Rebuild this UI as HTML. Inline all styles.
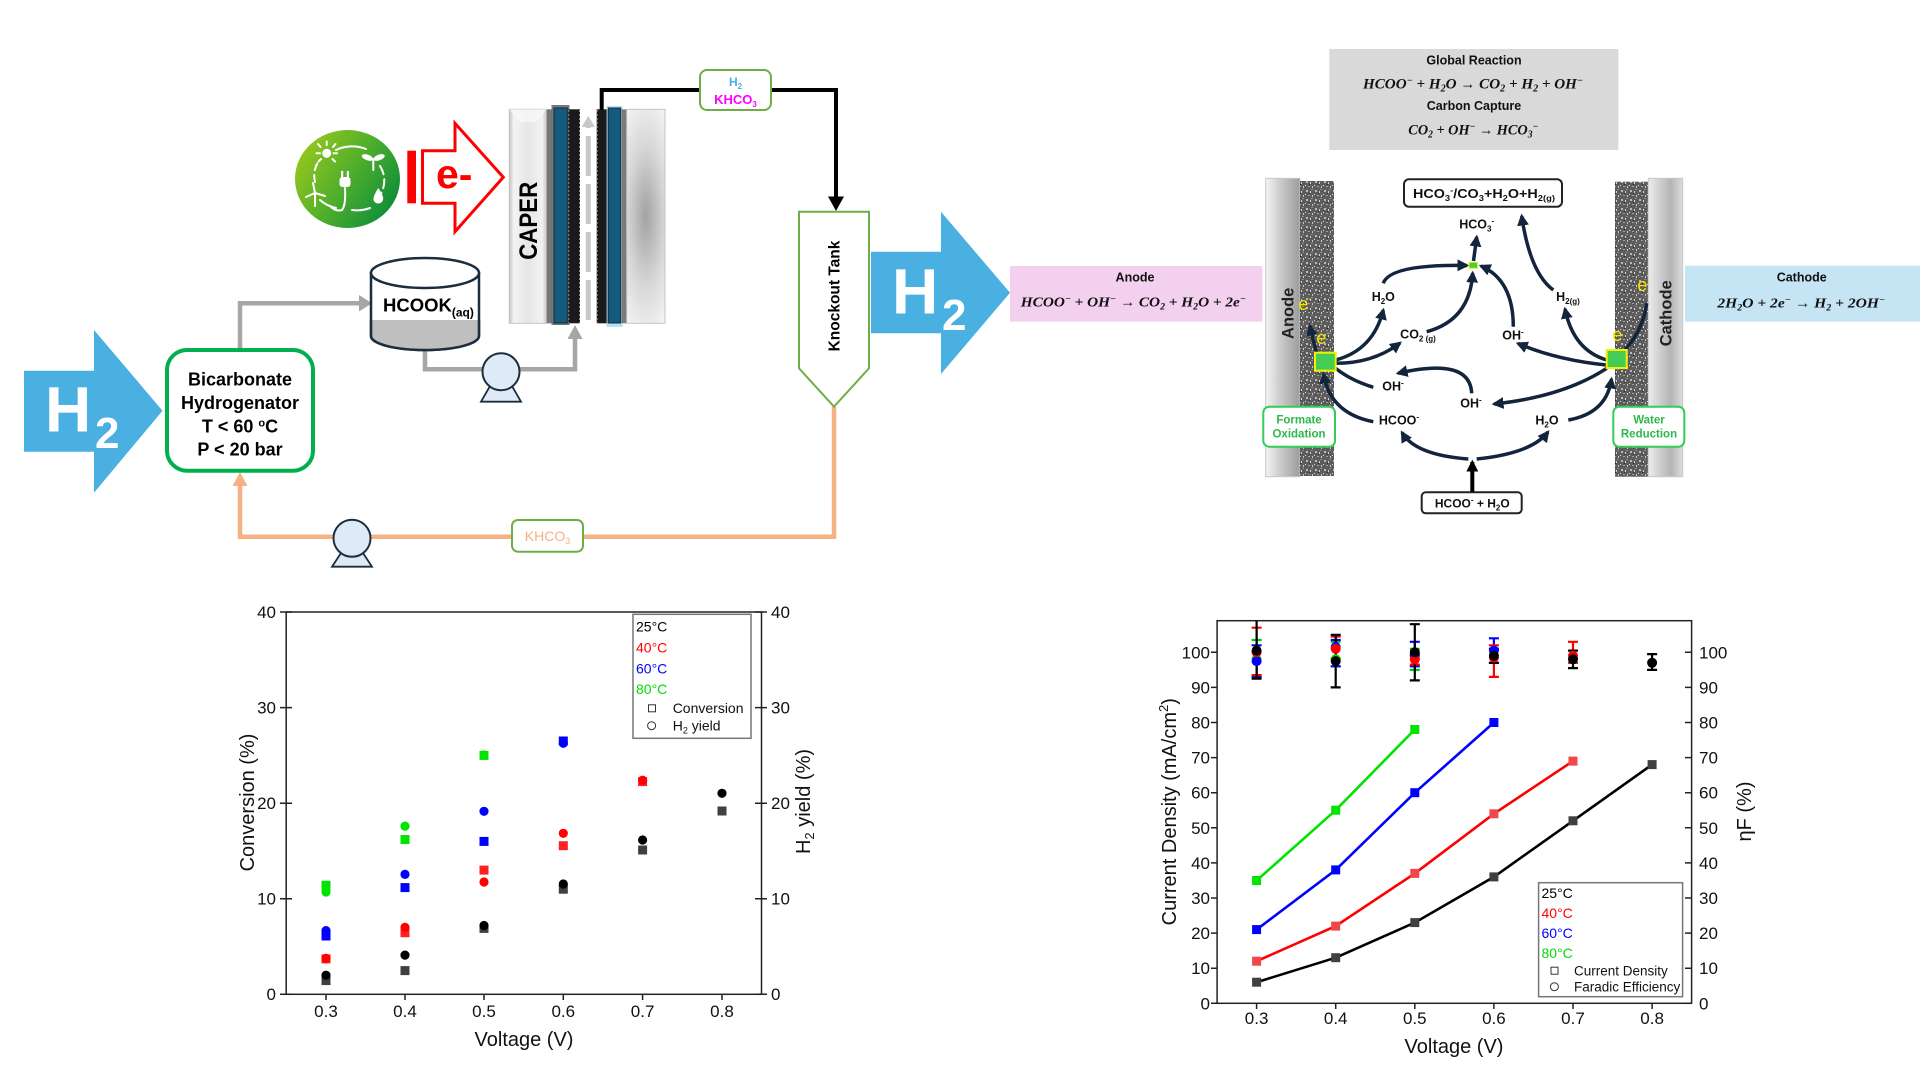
<!DOCTYPE html>
<html><head><meta charset="utf-8"><style>
html,body{margin:0;padding:0;background:#fff;width:1920px;height:1080px;overflow:hidden}
svg{display:block}
.s{font-family:"Liberation Sans",sans-serif}
.b{font-family:"Liberation Sans",sans-serif;font-weight:bold}
.eq{font-family:"Liberation Serif",serif;font-style:italic;font-weight:bold}
</style></head><body>
<svg width="1920" height="1080" viewBox="0 0 1920 1080" xmlns="http://www.w3.org/2000/svg">
<defs>
<linearGradient id="gl" x1="0" y1="0.2" x2="1" y2="0.8"><stop offset="0" stop-color="#9cc81d"/><stop offset="0.5" stop-color="#4fae2c"/><stop offset="1" stop-color="#078a3a"/></linearGradient>
<linearGradient id="plL" x1="0" x2="1"><stop offset="0" stop-color="#c2c2c2"/><stop offset="0.12" stop-color="#f4f4f4"/><stop offset="0.5" stop-color="#e6e6e6"/><stop offset="0.88" stop-color="#f2f2f2"/><stop offset="1" stop-color="#c6c6c6"/></linearGradient>
<radialGradient id="plR" gradientUnits="userSpaceOnUse" cx="0" cy="0" r="1" gradientTransform="translate(645.8 216) scale(34 125)"><stop offset="0" stop-color="#a2a2a2"/><stop offset="0.55" stop-color="#d6d6d6"/><stop offset="1" stop-color="#f4f4f4"/></radialGradient>
<linearGradient id="an" x1="0" x2="1"><stop offset="0" stop-color="#f4f4f4"/><stop offset="0.35" stop-color="#d2d2d2"/><stop offset="1" stop-color="#9c9c9c"/></linearGradient>
<linearGradient id="ca" x1="0" x2="1"><stop offset="0" stop-color="#ececec"/><stop offset="0.65" stop-color="#b4b4b4"/><stop offset="1" stop-color="#dcdcdc"/></linearGradient>
<pattern id="tex" width="9" height="9" patternUnits="userSpaceOnUse">
<rect width="9" height="9" fill="#5c5c5c"/>
<rect x="1" y="1" width="2" height="2" fill="#b8b8b8"/>
<rect x="5" y="2" width="1" height="2" fill="#d4d4d4"/>
<rect x="3" y="6" width="2" height="1" fill="#a0a0a0"/>
<rect x="7" y="6" width="1" height="2" fill="#c8c8c8"/>
<rect x="6" y="0" width="2" height="1" fill="#8a8a8a"/>
<rect x="0" y="5" width="1" height="1" fill="#e0e0e0"/>
<rect x="4" y="4" width="1" height="1" fill="#2c2c2c"/>
</pattern>
<marker id="ah" viewBox="0 0 10 10" refX="8" refY="5" markerWidth="3.4" markerHeight="3.4" orient="auto"><path d="M0,0L10,5L0,10z" fill="#13243d"/></marker>
<marker id="ahk" viewBox="0 0 10 10" refX="8" refY="5" markerWidth="3" markerHeight="3" orient="auto"><path d="M0,0L10,5L0,10z" fill="#000"/></marker>
</defs>

<!-- ================= PROCESS DIAGRAM ================= -->
<polygon points="24,370.7 94,370.7 94,330 162.5,410.7 94,492.7 94,451.7 24,451.7" fill="#49b0e1"/>
<text class="b" x="45" y="431.5" font-size="64" fill="#fff">H</text>
<text class="b" x="95" y="448" font-size="44" fill="#fff">2</text>

<polyline points="834,406.7 834,536.7 240,536.7 240,484" fill="none" stroke="#f4b183" stroke-width="4.5"/>
<polygon points="232.5,486 240,472 247.5,486" fill="#f4b183"/>

<polyline points="240,352 240,303.3 360,303.3" fill="none" stroke="#a6a6a6" stroke-width="4.5"/>
<polygon points="359,295 372,303.3 359,311.5" fill="#a6a6a6"/>
<polyline points="425,345 425,369.3 575,369.3 575,338" fill="none" stroke="#a6a6a6" stroke-width="4.5"/>
<polygon points="567.5,339 575,325 582.5,339" fill="#a6a6a6"/>

<rect x="167" y="350" width="146" height="120.7" rx="20" fill="#fff" stroke="#00b050" stroke-width="4"/>
<g class="b" font-size="18" text-anchor="middle" fill="#000">
<text x="240" y="385.5">Bicarbonate</text>
<text x="240" y="409">Hydrogenator</text>
<text x="240" y="432.3">T &lt; 60 <tspan font-size="11" dy="-6">o</tspan><tspan dy="6">C</tspan></text>
<text x="240" y="455.7">P &lt; 20 bar</text>
</g>

<ellipse cx="347.5" cy="179" rx="52.5" ry="49" fill="url(#gl)"/>
<g stroke="#fff" fill="none" stroke-width="2" stroke-linecap="round">
<path d="M336,150 A34,30 0 0 1 366,149"/>
<path d="M380,166 A34,30 0 0 1 378,198" stroke-dasharray="9 5"/>
<path d="M370,208 A34,30 0 0 1 352,210"/>
<path d="M336,208 A34,30 0 0 1 320,200"/>
<path d="M315,182 A34,30 0 0 1 318,162" stroke-dasharray="7 5"/>
<path d="M345,188 Q346,205 342,210 Q336,212 330,206"/>
<line x1="320.5" y1="147" x2="318" y2="144"/><line x1="326.7" y1="145" x2="326.7" y2="141.5"/><line x1="333" y1="147" x2="335.5" y2="144"/><line x1="320" y1="153.3" x2="316.5" y2="153.3"/><line x1="333.5" y1="153.3" x2="337" y2="153.3"/><line x1="321" y1="159" x2="318.5" y2="161.5"/><line x1="332.5" y1="159" x2="335" y2="161.5"/>
<line x1="315" y1="193" x2="315" y2="206"/><line x1="315" y1="193" x2="306" y2="197"/><line x1="315" y1="193" x2="325" y2="196"/><line x1="315" y1="193" x2="313" y2="183"/>
<line x1="373.3" y1="160" x2="373.3" y2="170"/>
</g>
<circle cx="326.7" cy="153.3" r="4.5" fill="#fff"/>
<rect x="339.5" y="177" width="11" height="10" rx="3" fill="#fff"/>
<rect x="341" y="171" width="2.2" height="7" fill="#fff"/><rect x="346.8" y="171" width="2.2" height="7" fill="#fff"/>
<ellipse cx="367.5" cy="157.5" rx="6" ry="2.8" fill="#fff" transform="rotate(20 367.5 157.5)"/>
<ellipse cx="379" cy="157.5" rx="6" ry="2.8" fill="#fff" transform="rotate(-20 379 157.5)"/>
<path d="M378.3,188 Q384,196 383,200 A5,5 0 0 1 373.5,200 Q373,196 378.3,188z" fill="#fff"/>

<rect x="407.3" y="150.7" width="8.7" height="52.6" fill="#ff0000"/>
<polygon points="422.5,150.7 455,150.7 455,123.3 503.3,177.3 455,231.7 455,203.3 422.5,203.3" fill="#fff" stroke="#ff0000" stroke-width="3"/>
<text class="b" x="436" y="188" font-size="41" fill="#ff0000">e-</text>

<path d="M371,273 V336 A54,14 0 0 0 479,336 V273 Z" fill="#fff" stroke="#1c2e3e" stroke-width="2.5"/>
<path d="M372.3,320 V336 A52.7,13 0 0 0 477.7,336 V320 Z" fill="#bfbfbf"/>
<path d="M371,320 V336 A54,14 0 0 0 479,336 V320" fill="none" stroke="#1c2e3e" stroke-width="2.5"/>
<ellipse cx="425" cy="273" rx="54" ry="15" fill="#fff" stroke="#1c2e3e" stroke-width="2.5"/>
<text class="b" x="383" y="311.5" font-size="18.5" fill="#000">HCOOK<tspan font-size="12" dy="5">(aq)</tspan></text>

<polygon points="490,386 512,386 521,401.7 481,401.7" fill="#deebf7" stroke="#1c2e3e" stroke-width="1.8"/>
<circle cx="501" cy="371.7" r="18.5" fill="#deebf7" stroke="#1c2e3e" stroke-width="2"/>
<polygon points="341,553 363,553 372,566.7 332,566.7" fill="#deebf7" stroke="#1c2e3e" stroke-width="1.8"/>
<circle cx="352" cy="538.3" r="18.5" fill="#deebf7" stroke="#1c2e3e" stroke-width="2"/>

<rect x="512" y="520" width="71" height="31.7" rx="6" fill="#fff" stroke="#70ad47" stroke-width="2"/>
<text class="s" x="547.5" y="541" font-size="14" fill="#f4b183" text-anchor="middle">KHCO<tspan font-size="9" dy="3">3</tspan></text>

<rect x="509.3" y="109.3" width="37.4" height="214" fill="url(#plL)" stroke="#c4c4c4" stroke-width="1"/>
<polygon points="509.3,109.3 546.7,109.3 536,122 520,122" fill="#fafafa" opacity="0.7"/>
<text class="b" x="0" y="0" font-size="25" fill="#000" text-anchor="middle" textLength="78" lengthAdjust="spacingAndGlyphs" transform="translate(537,220.8) rotate(-90)">CAPER</text>
<rect x="546.7" y="109.3" width="5" height="214" fill="#777"/>
<rect x="551.5" y="105" width="18" height="220" fill="#4a4a4a" opacity="0.75"/>
<rect x="554" y="108" width="13.3" height="215" fill="#135a7c" stroke="#0e2f40" stroke-width="1"/>
<rect x="568.3" y="109.3" width="11.7" height="214" fill="#1a1a1a"/>
<line x1="568.8" y1="110" x2="568.8" y2="323" stroke="#888" stroke-width="1" stroke-dasharray="2 2"/>
<line x1="579.5" y1="110" x2="579.5" y2="323" stroke="#888" stroke-width="1" stroke-dasharray="2 2"/>
<line x1="588.3" y1="320" x2="588.3" y2="126" stroke="#c8c8c8" stroke-width="5" stroke-dasharray="40 8"/>
<polygon points="581.7,127 588.3,115.7 595,127" fill="#c8c8c8"/>
<rect x="596.7" y="109.3" width="11.6" height="214" fill="#1a1a1a"/>
<line x1="597.2" y1="110" x2="597.2" y2="323" stroke="#888" stroke-width="1" stroke-dasharray="2 2"/>
<line x1="607.8" y1="110" x2="607.8" y2="323" stroke="#888" stroke-width="1" stroke-dasharray="2 2"/>
<rect x="606.5" y="106" width="16" height="221" fill="#a8d4ef" opacity="0.8"/>
<rect x="608.3" y="108" width="12.4" height="215" fill="#135a7c" stroke="#0e2f40" stroke-width="1"/>
<rect x="621.7" y="109.3" width="5" height="214" fill="#7a7a7a"/>
<rect x="626.7" y="109.3" width="38.3" height="214" fill="url(#plR)" stroke="#c4c4c4" stroke-width="1"/>

<polyline points="601.7,110 601.7,90 836,90 836,198" fill="none" stroke="#000" stroke-width="4"/>
<polygon points="828,196.5 836,211 844,196.5" fill="#000"/>
<rect x="700" y="70" width="71" height="40" rx="7" fill="#fff" stroke="#70ad47" stroke-width="2"/>
<text class="b" x="735.5" y="86" font-size="12" fill="#45b0e5" text-anchor="middle">H<tspan font-size="8" dy="3">2</tspan></text>
<text class="b" x="735.5" y="104" font-size="13" fill="#ff00ff" text-anchor="middle">KHCO<tspan font-size="8" dy="3">3</tspan></text>

<polygon points="799,211.7 869,211.7 869,368.3 834,406.7 799,368.3" fill="#fff" stroke="#70ad47" stroke-width="2"/>
<text class="b" x="0" y="0" font-size="15.5" fill="#000" text-anchor="middle" transform="translate(839.5,296) rotate(-90)">Knockout Tank</text>

<polygon points="871,251.7 941,251.7 941,211.7 1010,292.7 941,374 941,333.3 871,333.3" fill="#49b0e1"/>
<text class="b" x="892" y="313.3" font-size="64" fill="#fff">H</text>
<text class="b" x="942" y="330" font-size="44" fill="#fff">2</text>

<!-- ================= MECHANISM ================= -->
<rect x="1329.3" y="49" width="289" height="101" fill="#d9d9d9"/>
<text class="b" x="1474" y="64.3" font-size="12.5" text-anchor="middle" fill="#111">Global Reaction</text>
<text class="eq" x="1473" y="88.3" font-size="15" text-anchor="middle" textLength="220" lengthAdjust="spacingAndGlyphs" fill="#111">HCOO<tspan font-size="10" dy="-5">−</tspan><tspan dy="5"> + H</tspan><tspan font-size="10" dy="3">2</tspan><tspan dy="-3">O → CO</tspan><tspan font-size="10" dy="3">2</tspan><tspan dy="-3"> + H</tspan><tspan font-size="10" dy="3">2</tspan><tspan dy="-3"> + OH</tspan><tspan font-size="10" dy="-5">−</tspan></text>
<text class="b" x="1474" y="110" font-size="12.5" text-anchor="middle" fill="#111">Carbon Capture</text>
<text class="eq" x="1473.3" y="134.3" font-size="15" text-anchor="middle" textLength="130" lengthAdjust="spacingAndGlyphs" fill="#111">CO<tspan font-size="10" dy="3">2</tspan><tspan dy="-3"> + OH</tspan><tspan font-size="10" dy="-5">−</tspan><tspan dy="5"> →  HCO</tspan><tspan font-size="10" dy="3">3</tspan><tspan font-size="10" dy="-8">−</tspan></text>

<rect x="1010" y="266" width="252.3" height="55.7" fill="#f2d0ee"/>
<text class="b" x="1135" y="281.7" font-size="12.5" text-anchor="middle" fill="#111">Anode</text>
<text class="eq" x="1133.3" y="306.7" font-size="14" text-anchor="middle" textLength="225" lengthAdjust="spacingAndGlyphs" fill="#111">HCOO<tspan font-size="9" dy="-5">−</tspan><tspan dy="5"> + OH</tspan><tspan font-size="9" dy="-5">−</tspan><tspan dy="5"> → CO</tspan><tspan font-size="9" dy="3">2</tspan><tspan dy="-3"> + H</tspan><tspan font-size="9" dy="3">2</tspan><tspan dy="-3">O + 2e</tspan><tspan font-size="9" dy="-5">−</tspan></text>

<rect x="1685" y="265.7" width="235" height="56" fill="#c5e4f4"/>
<text class="b" x="1801.7" y="281.7" font-size="12.5" text-anchor="middle" fill="#111">Cathode</text>
<text class="eq" x="1801.2" y="307.3" font-size="14" text-anchor="middle" textLength="167.7" lengthAdjust="spacingAndGlyphs" fill="#111">2H<tspan font-size="9" dy="3">2</tspan><tspan dy="-3">O + 2e</tspan><tspan font-size="9" dy="-5">−</tspan><tspan dy="5"> → H</tspan><tspan font-size="9" dy="3">2</tspan><tspan dy="-3"> + 2OH</tspan><tspan font-size="9" dy="-5">−</tspan></text>

<rect x="1265.7" y="178.3" width="34.3" height="298.4" fill="url(#an)" stroke="#c8c8c8" stroke-width="1"/>
<rect x="1300" y="181" width="34" height="295" fill="url(#tex)"/>
<rect x="1615" y="181.7" width="33.3" height="295" fill="url(#tex)"/>
<rect x="1648.3" y="178.3" width="34.4" height="298.4" fill="url(#ca)" stroke="#c8c8c8" stroke-width="1"/>
<text class="b" x="0" y="0" font-size="16.5" text-anchor="middle" fill="#222" transform="translate(1293.5,313.3) rotate(-90)">Anode</text>
<text class="b" x="0" y="0" font-size="16.5" text-anchor="middle" fill="#222" transform="translate(1671.5,313.3) rotate(-90)">Cathode</text>

<rect x="1404" y="179.3" width="158" height="27.4" rx="5" fill="#fff" stroke="#222" stroke-width="2"/>
<text class="b" x="1484" y="198" font-size="13" text-anchor="middle" textLength="142" lengthAdjust="spacingAndGlyphs" fill="#111">HCO<tspan font-size="8.5" dy="3">3</tspan><tspan font-size="8.5" dy="-8">-</tspan><tspan dy="5">/CO</tspan><tspan font-size="8.5" dy="3">3</tspan><tspan dy="-3">+H</tspan><tspan font-size="8.5" dy="3">2</tspan><tspan dy="-3">O+H</tspan><tspan font-size="8.5" dy="3">2(g)</tspan></text>
<rect x="1421.7" y="492.3" width="100" height="21" rx="4" fill="#fff" stroke="#222" stroke-width="2"/>
<text class="b" x="1472.3" y="507.7" font-size="12" text-anchor="middle" fill="#111">HCOO<tspan font-size="8" dy="-5">-</tspan><tspan dy="5"> + H</tspan><tspan font-size="8" dy="3">2</tspan><tspan dy="-3">O</tspan></text>
<rect x="1263.3" y="406.7" width="71.7" height="40" rx="6" fill="#fff" stroke="#33cc55" stroke-width="2"/>
<text class="b" x="1299" y="423.3" font-size="11.5" text-anchor="middle" fill="#2db84d">Formate</text>
<text class="b" x="1299" y="437.3" font-size="11.5" text-anchor="middle" fill="#2db84d">Oxidation</text>
<rect x="1613.3" y="406.7" width="71" height="40" rx="6" fill="#fff" stroke="#33cc55" stroke-width="2"/>
<text class="b" x="1649" y="423.3" font-size="11.5" text-anchor="middle" fill="#2db84d">Water</text>
<text class="b" x="1649" y="437.3" font-size="11.5" text-anchor="middle" fill="#2db84d">Reduction</text>

<g fill="none" stroke="#13243d" stroke-width="3.5">
<path d="M1335.7,360 Q1373.3,350 1383.3,310" marker-end="url(#ah)"/>
<path d="M1335.7,363.3 Q1373.3,363.3 1400,343" marker-end="url(#ah)"/>
<path d="M1383.3,283.3 Q1390,264 1467,265.5" marker-end="url(#ah)"/>
<path d="M1426.7,331.7 Q1470,320 1472.7,273" marker-end="url(#ah)"/>
<path d="M1473.5,261 Q1475,250 1476.7,237" marker-end="url(#ah)"/>
<path d="M1513.3,326.7 Q1513.3,280 1481,266" marker-end="url(#ah)"/>
<path d="M1553.3,290 Q1530,273 1521.7,216" marker-end="url(#ah)"/>
<path d="M1606.7,360 Q1573.3,350 1565,309" marker-end="url(#ah)"/>
<path d="M1606.7,365 Q1556.7,360 1518,343.5" marker-end="url(#ah)"/>
<path d="M1606.7,368.3 Q1563.3,396.7 1494,404" marker-end="url(#ah)"/>
<path d="M1471.7,393.3 Q1470,356.7 1398,373.3" marker-end="url(#ah)"/>
<path d="M1373.3,387.3 Q1350,380 1335.7,368.3"/>
<path d="M1373.3,421.7 Q1330,413.3 1323.5,374" marker-end="url(#ah)"/>
<path d="M1568.3,420 Q1606.7,413.3 1611.5,379" marker-end="url(#ah)"/>
<path d="M1316.7,353.3 Q1313,340 1310,326" marker-end="url(#ah)"/>
<path d="M1468.3,459 Q1415,455 1402,432.5" marker-end="url(#ah)"/>
<path d="M1476.7,459 Q1531.7,453.3 1548,432" marker-end="url(#ah)"/>
<path d="M1625,350 Q1643,330 1646.7,303.3"/>
</g>
<line x1="1472.3" y1="491.7" x2="1472.3" y2="462" stroke="#000" stroke-width="4" marker-end="url(#ahk)"/>

<rect x="1315" y="352.7" width="20.7" height="18" fill="#44cc55" stroke="#f2f200" stroke-width="2"/>
<rect x="1606.7" y="350" width="20" height="18" fill="#44cc55" stroke="#f2f200" stroke-width="2"/>
<rect x="1469" y="262.3" width="8.5" height="6" fill="#44cc55" stroke="#f2f200" stroke-width="1"/>

<g class="b" font-size="12.5" fill="#111" text-anchor="middle">
<text x="1476.7" y="228.5">HCO<tspan font-size="8" dy="3">3</tspan><tspan font-size="8" dy="-8">-</tspan></text>
<text x="1383.3" y="301">H<tspan font-size="8" dy="3">2</tspan><tspan dy="-3">O</tspan></text>
<text x="1418" y="338.5">CO<tspan font-size="8" dy="3">2 (g)</tspan></text>
<text x="1513" y="339.5">OH<tspan font-size="8" dy="-5">-</tspan></text>
<text x="1568" y="301">H<tspan font-size="8" dy="3">2(g)</tspan></text>
<text x="1393" y="390.5">OH<tspan font-size="8" dy="-5">-</tspan></text>
<text x="1471" y="407.7">OH<tspan font-size="8" dy="-5">-</tspan></text>
<text x="1399" y="424.3">HCOO<tspan font-size="8" dy="-5">-</tspan></text>
<text x="1547" y="424.3">H<tspan font-size="8" dy="3">2</tspan><tspan dy="-3">O</tspan></text>
</g>
<g class="s" font-size="18" fill="#f2e600" text-anchor="middle">
<text x="1305" y="310">e<tspan font-size="10" dy="-8">-</tspan></text>
<text x="1323" y="344">e<tspan font-size="10" dy="-8">-</tspan></text>
<text x="1644" y="291">e<tspan font-size="10" dy="-8">-</tspan></text>
<text x="1619" y="341">e<tspan font-size="10" dy="-8">-</tspan></text>
</g>

<!-- ================= CHART 1 ================= -->
<g stroke="#222" stroke-width="1.5" fill="none">
<rect x="286.2" y="612" width="475.3" height="382.3"/>
<path d="M280,994.3H292M280,898.7H292M280,803.2H292M280,707.6H292M280,612H292"/>
<path d="M755,994.3H767M755,898.7H767M755,803.2H767M755,707.6H767M755,612H767"/>
<path d="M326,994.3V1000M405,994.3V1000M484,994.3V1000M563.3,994.3V1000M642.6,994.3V1000M722,994.3V1000"/>
</g>
<g class="s" font-size="17" fill="#111" text-anchor="end">
<text x="276" y="1000">0</text><text x="276" y="904.5">10</text><text x="276" y="809">20</text><text x="276" y="713.5">30</text><text x="276" y="618">40</text>
</g>
<g class="s" font-size="17" fill="#111">
<text x="771" y="1000">0</text><text x="771" y="904.5">10</text><text x="771" y="809">20</text><text x="771" y="713.5">30</text><text x="771" y="618">40</text>
</g>
<g class="s" font-size="17" fill="#111" text-anchor="middle">
<text x="326" y="1017">0.3</text><text x="405" y="1017">0.4</text><text x="484" y="1017">0.5</text><text x="563.3" y="1017">0.6</text><text x="642.6" y="1017">0.7</text><text x="722" y="1017">0.8</text>
</g>
<text class="s" x="524" y="1046" font-size="20" text-anchor="middle" fill="#111">Voltage (V)</text>
<text class="s" x="0" y="0" font-size="20" text-anchor="middle" fill="#111" transform="translate(254,802.5) rotate(-90)">Conversion (%)</text>
<text class="s" x="0" y="0" font-size="20" text-anchor="middle" fill="#111" transform="translate(810,801.5) rotate(-90)">H<tspan font-size="13" dy="4">2</tspan><tspan dy="-4"> yield (%)</tspan></text>
<rect x="633" y="614.3" width="118" height="124" fill="#fff" stroke="#777" stroke-width="1.5"/>
<g class="s" font-size="14">
<text x="636" y="631.5" fill="#000">25°C</text>
<text x="636" y="652.5" fill="#ff0000">40°C</text>
<text x="636" y="673.5" fill="#0000ff">60°C</text>
<text x="636" y="694" fill="#00dd00">80°C</text>
<text x="672.7" y="713" fill="#111">Conversion</text>
<text x="672.7" y="730.5" fill="#111">H<tspan font-size="9" dy="3">2</tspan><tspan dy="-3"> yield</tspan></text>
</g>
<rect x="648.5" y="704.8" width="7" height="7" fill="none" stroke="#333" stroke-width="1"/>
<circle cx="651.6" cy="725.7" r="4" fill="none" stroke="#333" stroke-width="1"/>
<g>
<rect x="321.5" y="976.1" width="9" height="9" fill="#404040"/>
<rect x="321.5" y="954.4" width="9" height="9" fill="#ff2020"/>
<rect x="321.5" y="931.5" width="9" height="9" fill="#0000ff"/>
<rect x="321.5" y="880.8" width="9" height="9" fill="#00e400"/>
<rect x="400.5" y="966.1" width="9" height="9" fill="#404040"/>
<rect x="400.5" y="928.2" width="9" height="9" fill="#ff2020"/>
<rect x="400.5" y="883.1" width="9" height="9" fill="#0000ff"/>
<rect x="400.5" y="835" width="9" height="9" fill="#00e400"/>
<rect x="479.5" y="923.9" width="9" height="9" fill="#404040"/>
<rect x="479.5" y="865.6" width="9" height="9" fill="#ff2020"/>
<rect x="479.5" y="836.9" width="9" height="9" fill="#0000ff"/>
<rect x="479.5" y="750.9" width="9" height="9" fill="#00e400"/>
<rect x="558.8" y="884.7" width="9" height="9" fill="#404040"/>
<rect x="558.8" y="841.2" width="9" height="9" fill="#ff2020"/>
<rect x="558.8" y="736.5" width="9" height="9" fill="#0000ff"/>
<rect x="638.1" y="845.5" width="9" height="9" fill="#404040"/>
<rect x="638.1" y="777.1" width="9" height="9" fill="#ff2020"/>
<rect x="717.5" y="806.5" width="9" height="9" fill="#404040"/>
<circle cx="326" cy="975.2" r="4.6" fill="#000"/>
<circle cx="326" cy="958.3" r="4.6" fill="#ff0000"/>
<circle cx="326" cy="930.6" r="4.6" fill="#0000ff"/>
<circle cx="326" cy="892" r="4.6" fill="#00e400"/>
<circle cx="405" cy="955.1" r="4.6" fill="#000"/>
<circle cx="405" cy="927.4" r="4.6" fill="#ff0000"/>
<circle cx="405" cy="874.4" r="4.6" fill="#0000ff"/>
<circle cx="405" cy="826.1" r="4.6" fill="#00e400"/>
<circle cx="484" cy="925.5" r="4.6" fill="#000"/>
<circle cx="484" cy="882" r="4.6" fill="#ff0000"/>
<circle cx="484" cy="811.3" r="4.6" fill="#0000ff"/>
<circle cx="484" cy="755" r="4.6" fill="#00e400"/>
<circle cx="563.3" cy="884" r="4.6" fill="#000"/>
<circle cx="563.3" cy="833.3" r="4.6" fill="#ff0000"/>
<circle cx="563.3" cy="743.3" r="4.6" fill="#0000ff"/>
<circle cx="642.6" cy="840" r="4.6" fill="#000"/>
<circle cx="642.6" cy="780.2" r="4.6" fill="#ff0000"/>
<circle cx="722" cy="793.3" r="4.6" fill="#000"/>
</g>

<!-- ================= CHART 2 ================= -->
<g stroke="#222" stroke-width="1.5" fill="none">
<rect x="1217.1" y="620.7" width="474.5" height="382.6"/>
<path d="M1211,1003.3H1217M1211,968.2H1217M1211,933.1H1217M1211,898H1217M1211,862.9H1217M1211,827.8H1217M1211,792.7H1217M1211,757.6H1217M1211,722.5H1217M1211,687.4H1217M1211,652.3H1217"/>
<path d="M1685,1003.3H1691.6M1685,968.2H1691.6M1685,933.1H1691.6M1685,898H1691.6M1685,862.9H1691.6M1685,827.8H1691.6M1685,792.7H1691.6M1685,757.6H1691.6M1685,722.5H1691.6M1685,687.4H1691.6M1685,652.3H1691.6"/>
<path d="M1256.6,1003.3V1009M1335.7,1003.3V1009M1414.8,1003.3V1009M1493.9,1003.3V1009M1573,1003.3V1009M1652.1,1003.3V1009"/>
</g>
<g class="s" font-size="17" fill="#111" text-anchor="end">
<text x="1210" y="1009.3">0</text><text x="1210" y="974.2">10</text><text x="1210" y="939.1">20</text><text x="1210" y="904">30</text><text x="1210" y="868.9">40</text><text x="1210" y="833.8">50</text><text x="1210" y="798.7">60</text><text x="1210" y="763.6">70</text><text x="1210" y="728.5">80</text><text x="1210" y="693.4">90</text><text x="1210" y="658.3">100</text>
</g>
<g class="s" font-size="17" fill="#111">
<text x="1699" y="1009.3">0</text><text x="1699" y="974.2">10</text><text x="1699" y="939.1">20</text><text x="1699" y="904">30</text><text x="1699" y="868.9">40</text><text x="1699" y="833.8">50</text><text x="1699" y="798.7">60</text><text x="1699" y="763.6">70</text><text x="1699" y="728.5">80</text><text x="1699" y="693.4">90</text><text x="1699" y="658.3">100</text>
</g>
<g class="s" font-size="17" fill="#111" text-anchor="middle">
<text x="1256.6" y="1024">0.3</text><text x="1335.7" y="1024">0.4</text><text x="1414.8" y="1024">0.5</text><text x="1493.9" y="1024">0.6</text><text x="1573" y="1024">0.7</text><text x="1652.1" y="1024">0.8</text>
</g>
<text class="s" x="1454" y="1053" font-size="20" text-anchor="middle" fill="#111">Voltage (V)</text>
<text class="s" x="0" y="0" font-size="20" text-anchor="middle" fill="#111" transform="translate(1176,811.7) rotate(-90)">Current Density (mA/cm<tspan font-size="13" dy="-8">2</tspan><tspan dy="8">)</tspan></text>
<text class="s" x="0" y="0" font-size="20" text-anchor="middle" fill="#111" transform="translate(1751,811.5) rotate(-90)">ηF (%)</text>

<g fill="none" stroke-width="2.6">
<polyline points="1256.6,982.2 1335.7,957.7 1414.8,922.6 1493.9,876.9 1573,820.8 1652.1,764.6" stroke="#000"/>
<polyline points="1256.6,961.2 1335.7,926.1 1414.8,873.4 1493.9,813.8 1573,761.1" stroke="#ff0000"/>
<polyline points="1256.6,929.6 1335.7,869.9 1414.8,792.7 1493.9,722.5" stroke="#0000ff"/>
<polyline points="1256.6,880.5 1335.7,810.2 1414.8,729.5" stroke="#00e400"/>
</g>
<g>
<rect x="1252.1" y="977.7" width="9" height="9" fill="#404040"/><rect x="1331.2" y="953.2" width="9" height="9" fill="#404040"/><rect x="1410.3" y="918.1" width="9" height="9" fill="#404040"/><rect x="1489.4" y="872.4" width="9" height="9" fill="#404040"/><rect x="1568.5" y="816.3" width="9" height="9" fill="#404040"/><rect x="1647.6" y="760.1" width="9" height="9" fill="#404040"/>
<rect x="1252.1" y="956.7" width="9" height="9" fill="#f04848"/><rect x="1331.2" y="921.6" width="9" height="9" fill="#f04848"/><rect x="1410.3" y="868.9" width="9" height="9" fill="#f04848"/><rect x="1489.4" y="809.3" width="9" height="9" fill="#f04848"/><rect x="1568.5" y="756.6" width="9" height="9" fill="#f04848"/>
<rect x="1252.1" y="925.1" width="9" height="9" fill="#0000ff"/><rect x="1331.2" y="865.4" width="9" height="9" fill="#0000ff"/><rect x="1410.3" y="788.2" width="9" height="9" fill="#0000ff"/><rect x="1489.4" y="718" width="9" height="9" fill="#0000ff"/>
<rect x="1252.1" y="876" width="9" height="9" fill="#00e400"/><rect x="1331.2" y="805.7" width="9" height="9" fill="#00e400"/><rect x="1410.3" y="725" width="9" height="9" fill="#00e400"/>
</g>
<g stroke-width="2.2" fill="none">
<path stroke="#00d000" d="M1256.6,676.9V640M1251.6,676.9H1261.6M1251.6,640H1261.6M1335.7,666.3V641.8M1330.7,666.3H1340.7M1330.7,641.8H1340.7M1414.8,669.9V648.8M1409.8,669.9H1419.8M1409.8,648.8H1419.8"/>
<path stroke="#0000ff" d="M1256.6,676.9V645.3M1251.6,676.9H1261.6M1251.6,645.3H1261.6M1335.7,666.3V640M1330.7,666.3H1340.7M1330.7,640H1340.7M1414.8,666.3V641.8M1409.8,666.3H1419.8M1409.8,641.8H1419.8M1493.9,662.8V638.3M1488.9,662.8H1498.9M1488.9,638.3H1498.9"/>
<path stroke="#ff0000" d="M1256.6,675.1V627.7M1251.6,675.1H1261.6M1251.6,627.7H1261.6M1335.7,658.8V636.5M1330.7,658.8H1340.7M1330.7,636.5H1340.7M1414.8,664.6V654.1M1409.8,664.6H1419.8M1409.8,654.1H1419.8M1493.9,676.9V645.3M1488.9,676.9H1498.9M1488.9,645.3H1498.9M1573,662.8V641.8M1568,662.8H1578M1568,641.8H1578"/>
<path stroke="#000" d="M1256.6,678.6V621M1251.6,678.6H1261.6M1335.7,687.4V634.8M1330.7,687.4H1340.7M1330.7,634.8H1340.7M1414.8,680.4V624.2M1409.8,680.4H1419.8M1409.8,624.2H1419.8M1493.9,662.8V648.8M1488.9,662.8H1498.9M1488.9,648.8H1498.9M1573,668.1V650.6M1568,668.1H1578M1568,650.6H1578M1652.1,669.9V654.1M1647.1,669.9H1657.1M1647.1,654.1H1657.1"/>
</g>
<g>
<circle cx="1256.6" cy="659.3" r="5" fill="#00e400"/><circle cx="1335.7" cy="659.3" r="5" fill="#00e400"/><circle cx="1414.8" cy="659.3" r="5" fill="#00e400"/>
<circle cx="1256.6" cy="661.1" r="5" fill="#0000ff"/><circle cx="1335.7" cy="647" r="5" fill="#0000ff"/><circle cx="1414.8" cy="655.8" r="5" fill="#0000ff"/><circle cx="1493.9" cy="650.6" r="5" fill="#0000ff"/>
<circle cx="1256.6" cy="652.3" r="5" fill="#ff0000"/><circle cx="1335.7" cy="648.8" r="5" fill="#ff0000"/><circle cx="1414.8" cy="659.3" r="5" fill="#ff0000"/><circle cx="1493.9" cy="657.6" r="5" fill="#ff0000"/><circle cx="1573" cy="655.8" r="5" fill="#ff0000"/>
<circle cx="1256.6" cy="650.6" r="5" fill="#000"/><circle cx="1335.7" cy="661.1" r="5" fill="#000"/><circle cx="1414.8" cy="652.3" r="5" fill="#000"/><circle cx="1493.9" cy="655.8" r="5" fill="#000"/><circle cx="1573" cy="659.3" r="5" fill="#000"/><circle cx="1652.1" cy="662.8" r="5" fill="#000"/>
</g>
<rect x="1538.6" y="882.7" width="144" height="114" fill="#fff" stroke="#777" stroke-width="1.5"/>
<g class="s" font-size="14">
<text x="1541.5" y="898" fill="#000">25°C</text>
<text x="1541.5" y="918" fill="#ff0000">40°C</text>
<text x="1541.5" y="938" fill="#0000ff">60°C</text>
<text x="1541.5" y="958" fill="#00dd00">80°C</text>
<text x="1574" y="975.5" fill="#111" font-size="13.5">Current Density</text>
<text x="1574" y="991.5" fill="#111" font-size="13.5">Faradic Efficiency</text>
</g>
<rect x="1551" y="967.2" width="7" height="7" fill="none" stroke="#333" stroke-width="1"/>
<circle cx="1554.4" cy="986.7" r="4" fill="none" stroke="#333" stroke-width="1"/>
</svg>
</body></html>
